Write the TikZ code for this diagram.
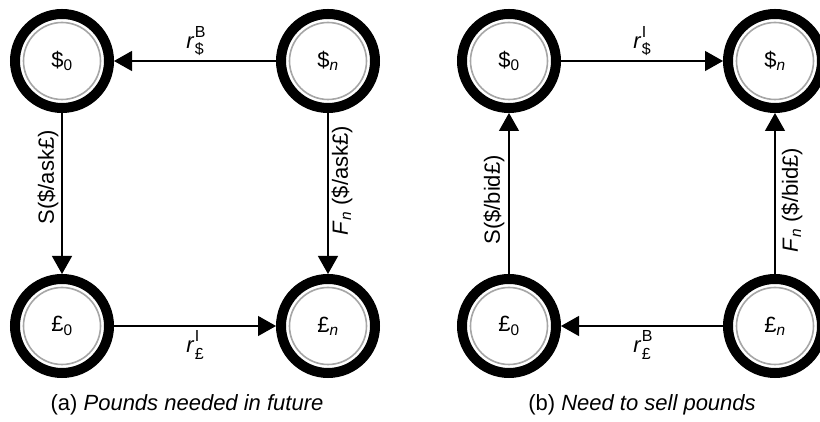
\documentclass[tikz,border=0pt]{standalone}
\usepackage{fontspec}
\setmainfont{Liberation Sans}
\usetikzlibrary{arrows.meta}

\newcommand{\smallsub}{\fontsize{16}{16}\selectfont}
\newcommand{\ratelbl}[2]{\textit{r}\kern0.5pt\rlap{\raisebox{0.5em}{\smallsub #1}}\raisebox{-0.3em}{\smallsub #2}}

\begin{document}
\begin{tikzpicture}[x=1pt, y=1pt, >={Triangle[length=18pt, width=20pt]},
  state/.style={circle, draw, line width=10pt, minimum size=94pt, inner sep=0pt,
    font=\fontsize{22}{26}\selectfont,
    path picture={\draw[black!35, line width=1.6pt]
      (path picture bounding box.center) circle (38.5pt);}},
  flow/.style={->, line width=1.3pt},
  lbl/.style={font=\fontsize{22}{26}\selectfont}]
  \useasboundingbox (0,0) rectangle (820,422);

  % (a) Pounds needed in future
  \node[state] (da0) at (62,361) {\$\textsubscript{0}};
  \node[state] (dan) at (328,361) {\$\textsubscript{\textit{n}}};
  \node[state] (pa0) at (62,96) {£\textsubscript{0}};
  \node[state] (pan) at (328,96) {£\textsubscript{\textit{n}}};

  \draw[flow] (dan) -- node[lbl, above=1pt] {\ratelbl{B}{\$}} (da0);
  \draw[flow] (da0) -- node[lbl, pos=0.4, rotate=90, anchor=south, inner sep=3pt]
    {S(\$/ask£)} (pa0);
  \draw[flow] (dan) -- node[lbl, pos=0.42, rotate=90, anchor=north, inner sep=3pt]
    {\textit{F}\textsubscript{\textit{n}} (\$/ask£)} (pan);
  \draw[flow] (pa0) -- node[lbl, below=1pt] {\ratelbl{I}{£}} (pan);

  \node[lbl] (capa) at (187,17) {(a) \textit{Pounds needed in future}};

  % (b) Need to sell pounds
  \node[state] (db0) at (509,361) {\$\textsubscript{0}};
  \node[state] (dbn) at (775,361) {\$\textsubscript{\textit{n}}};
  \node[state] (pb0) at (509,96) {£\textsubscript{0}};
  \node[state] (pbn) at (775,96) {£\textsubscript{\textit{n}}};

  \draw[flow] (db0) -- node[lbl, above=1pt] {\ratelbl{I}{\$}} (dbn);
  \draw[flow] (pb0) -- node[lbl, pos=0.46, rotate=90, anchor=south, inner sep=4pt]
    {S(\$/bid£)} (db0);
  \draw[flow] (pbn) -- node[lbl, pos=0.46, rotate=90, anchor=north, inner sep=6pt]
    {\textit{F}\textsubscript{\textit{n}} (\$/bid£)} (dbn);
  \draw[flow] (pbn) -- node[lbl, below=1pt] {\ratelbl{B}{£}} (pb0);

  \node[lbl] (capb) at (642,17) {(b) \textit{Need to sell pounds}};
\end{tikzpicture}
\end{document}
